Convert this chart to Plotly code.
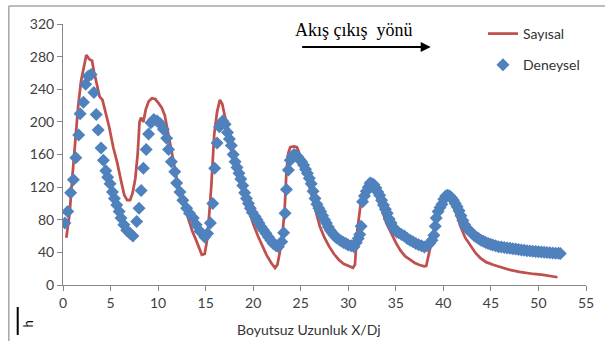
import plotly.graph_objects as go

# Sayısal (numerical) line
x_num = [0.35, 0.7, 1.0, 1.3, 1.6, 1.9, 2.2, 2.45, 2.75, 3.05, 3.25, 3.5, 3.85, 4.15, 4.5, 4.85, 5.3, 5.7,
         6.1, 6.45, 6.75, 7.05, 7.3, 7.6, 7.85, 8.05, 8.2, 8.45, 8.7, 9.0, 9.35, 9.7, 10.05, 10.4, 10.7,
         11.0, 11.3, 11.6, 12.0, 12.4, 12.8, 13.2, 13.6, 14.0, 14.3, 14.6, 14.9, 15.15, 15.4, 15.6, 15.9,
         16.2, 16.5, 16.75, 17.0, 17.3, 17.7, 18.1, 18.5, 18.9, 19.3, 19.6, 20.0, 20.5, 20.9, 21.4, 21.9,
         22.3, 22.55, 22.8, 23.05, 23.3, 23.5, 23.7, 23.9, 24.3, 24.6, 24.9, 25.3, 25.7, 26.1, 26.5, 27.0,
         27.5, 28.0, 28.5, 29.0, 29.5, 30.0, 30.5, 30.7, 30.95, 31.4, 31.8, 32.1, 32.4, 32.8, 33.2, 33.6,
         34.0, 34.5, 35.0, 35.5, 36.0, 36.5, 37.0, 37.5, 38.0, 38.2, 38.5, 38.8, 39.2, 39.6, 40.0, 40.4,
         40.8, 41.1, 41.5, 41.8, 42.3, 42.9, 43.4, 43.9, 44.5, 45.3, 46.0, 47.0, 48.0, 48.7, 49.5, 50.5,
         51.3, 52.0]
y_num = [58, 88, 135, 178, 220, 250, 270, 282, 277, 275, 262, 248, 231, 227, 210, 194, 168, 150,
         128, 110, 104, 104, 112, 130, 160, 200, 205, 200, 215, 225, 229, 228, 223, 217, 208,
         190, 170, 150, 128, 110, 95, 80, 66, 55, 45, 37, 38, 55, 90, 122, 184,
         212, 227, 222, 208, 195, 174, 152, 133, 115, 100, 90, 75, 60, 49, 37, 27,
         21, 25, 40, 60, 90, 140, 162, 169, 170, 169, 160, 148, 130, 112, 95, 72,
         58, 47, 38, 31, 26, 23, 21, 25, 67, 108, 122, 126, 124, 115, 103, 90,
         76, 63, 52, 42, 35, 31, 27, 24.5, 23, 23.5, 38, 55, 78, 95, 106, 108,
         102, 95, 83, 72, 58, 47, 39, 33, 28, 24.5, 22, 18.5, 16, 14.5, 13.5, 12.3,
         11, 9.5]

# Deneysel (experimental) points
x_exp = [0.2, 0.5, 0.8, 1.1, 1.35, 1.65, 1.8, 2.15, 2.38, 2.65, 2.95, 3.25, 3.5, 3.7, 4.0, 4.25, 4.5, 4.7,
         4.95, 5.2, 5.4, 5.65, 5.9, 6.1, 6.4, 6.7, 7.05, 7.35, 7.75, 8.0, 8.22, 8.45, 8.75, 9.0, 9.25, 9.55,
         9.9, 10.2, 10.55, 10.9, 11.1, 11.4, 11.75, 11.95, 12.3, 12.6, 13.0, 13.3, 13.7, 14.0, 14.4, 14.9,
         15.2, 15.5, 15.75, 15.95, 16.2, 16.45, 16.8, 17.05, 17.3, 17.5, 17.7, 17.9, 18.1, 18.3, 18.5, 18.7,
         18.9, 19.1, 19.3, 19.5, 19.7, 19.9, 20.2, 20.4, 20.6, 20.85, 21.1, 21.35, 21.6, 21.85, 22.1, 22.4,
         22.65, 23.0, 23.2, 23.35, 23.5, 23.7, 23.9, 24.1, 24.3, 24.5, 24.7, 24.9, 25.1, 25.3, 25.5, 25.7,
         25.9, 26.1, 26.3, 26.5, 26.7, 26.9, 27.1, 27.3, 27.5, 27.7, 27.9, 28.1, 28.3, 28.5, 28.75, 29.0,
         29.25, 29.5, 29.75, 30.0, 30.3, 30.6, 30.85, 31.05, 31.2, 31.35, 31.5, 31.7, 31.9, 32.1, 32.3, 32.5,
         32.7, 32.9, 33.1, 33.3, 33.5, 33.7, 33.9, 34.1, 34.3, 34.5, 34.7, 34.9, 35.1, 35.3, 35.6, 35.9,
         36.2, 36.5, 36.8, 37.1, 37.4, 37.7, 38.0, 38.3, 38.55, 38.8, 39.0, 39.15, 39.25, 39.45, 39.65, 39.85,
         40.05, 40.25, 40.45, 40.65, 40.85, 41.05, 41.25, 41.45, 41.65, 41.85, 42.05, 42.25, 42.45, 42.7, 42.95, 43.2,
         43.45, 43.7, 43.95, 44.2, 44.45, 44.7, 44.95, 45.2, 45.5, 45.8, 46.1, 46.4, 46.7, 47.0, 47.3, 47.6,
         47.9, 48.2, 48.5, 48.8, 49.1, 49.4, 49.7, 50.0, 50.3, 50.6, 50.9, 51.2, 51.5, 51.8, 52.1, 52.3]
y_exp = [76, 90, 113, 129, 156, 184, 210, 224, 246, 256, 258, 236, 209, 190, 168, 153, 140, 132,
         124, 114, 106, 98, 90, 82, 74, 67, 63, 60, 78, 94, 116, 143, 166, 185, 199, 203,
         201, 198, 191, 180, 166, 151, 139, 125, 114, 104, 94, 88, 82, 74, 66, 59,
         63, 76, 100, 143, 174, 194, 201, 197, 187, 179, 171, 160, 151, 144, 137, 130,
         122, 113, 106, 100, 94, 89, 84, 80, 76, 71, 67, 63, 59, 55, 51, 48,
         47, 53, 64, 88, 117, 141, 153, 158, 160, 159, 157, 154, 151, 147, 142, 137,
         131, 124, 115, 106, 99, 94, 90, 85, 80, 76, 71, 67, 64, 61, 58, 56,
         54, 52, 51, 49, 48, 47, 52, 57, 62, 72, 102, 109, 115, 120, 125, 124,
         123, 119, 114, 110, 104, 98, 93, 88, 81, 76, 71, 68, 65, 64, 62, 60,
         57, 55, 53, 51, 49.5, 48, 46.5, 48, 51, 55, 61, 72, 82, 90, 95, 99,
         105, 109, 110, 109, 107, 104, 100, 96, 91, 85, 79, 74, 70, 67, 64, 61,
         59, 57, 55, 53.5, 52, 51, 50, 49, 48, 47, 46.5, 46, 45.5, 45, 44.5, 44,
         43.5, 43, 42.5, 42, 41.8, 41.5, 41, 40.7, 40.4, 40.1, 39.8, 39.6, 39.3, 39, 38.8, 38.5]

x_ticks = [0, 5, 10, 15, 20, 25, 30, 35, 40, 45, 50, 55]
y_ticks = [0, 40, 80, 120, 160, 200, 240, 280, 320]

FONT = "Lato"
TICK_COLOR = "#404040"
AXIS_COLOR = "#868686"

fig = go.Figure()
fig.add_trace(go.Scatter(x=x_num, y=y_num, mode="lines", name="Sayısal", legendgroup="a",
                         line=dict(color="#C0504D", width=2.75)))
fig.add_trace(go.Scatter(x=x_exp, y=y_exp, mode="markers", name="Deneysel", legendgroup="b",
                         marker=dict(symbol="diamond", size=10, color="#4F81BD")))

axis_common = dict(showgrid=False, zeroline=False, showline=True, linecolor=AXIS_COLOR, linewidth=1,
                   ticks="outside", ticklen=5, tickcolor=AXIS_COLOR,
                   tickfont=dict(family=FONT, size=14, color=TICK_COLOR))

fig.update_layout(
    width=605, height=341,
    margin=dict(l=63, r=11, t=24, b=56),
    plot_bgcolor="white", paper_bgcolor="white",
    xaxis=dict(range=[0, 55], tickvals=x_ticks, **axis_common),
    yaxis=dict(range=[0, 320], tickvals=y_ticks, **axis_common),
    legend=dict(x=0.803, y=1.023, xanchor="left", yanchor="top", bgcolor="rgba(0,0,0,0)",
                font=dict(family=FONT, size=14, color="#333333"), tracegroupgap=10),
    showlegend=True,
    annotations=[
        dict(text="Boyutsuz Uzunluk X/Dj", x=0.471, y=-0.172, xref="paper", yref="paper",
             showarrow=False, xanchor="center", yanchor="middle",
             font=dict(family=FONT, size=14, color="#333333")),
        dict(text="Akış çıkış  yönü", x=0.556, y=0.977, xref="paper", yref="paper",
             showarrow=False, xanchor="center", yanchor="middle",
             font=dict(family="Liberation Serif", size=18, color="black")),
        dict(text="", x=0.703, y=0.912, xref="paper", yref="paper", showarrow=True,
             ax=-130, ay=0, arrowhead=2, arrowsize=1, arrowwidth=2, arrowcolor="black"),
        dict(text="h", x=-0.0678, y=-0.149, xref="paper", yref="paper", showarrow=False,
             textangle=-90, xanchor="center", yanchor="middle",
             font=dict(family=FONT, size=13, color="black")),
    ],
    shapes=[
        dict(type="line", xref="paper", yref="paper", x0=-0.1036, x1=-0.1036, y0=-0.3, y1=1.069,
             line=dict(color="#a6a6a6", width=1.5)),
        dict(type="line", xref="paper", yref="paper", x0=-0.1036, x1=1.05, y0=1.069, y1=1.069,
             line=dict(color="#a6a6a6", width=1.5)),
        dict(type="line", xref="paper", yref="paper", x0=-0.0866, x1=-0.0866, y0=-0.0843, y1=-0.1916,
             line=dict(color="black", width=2)),
    ],
)

fig.write_html("out.html")
